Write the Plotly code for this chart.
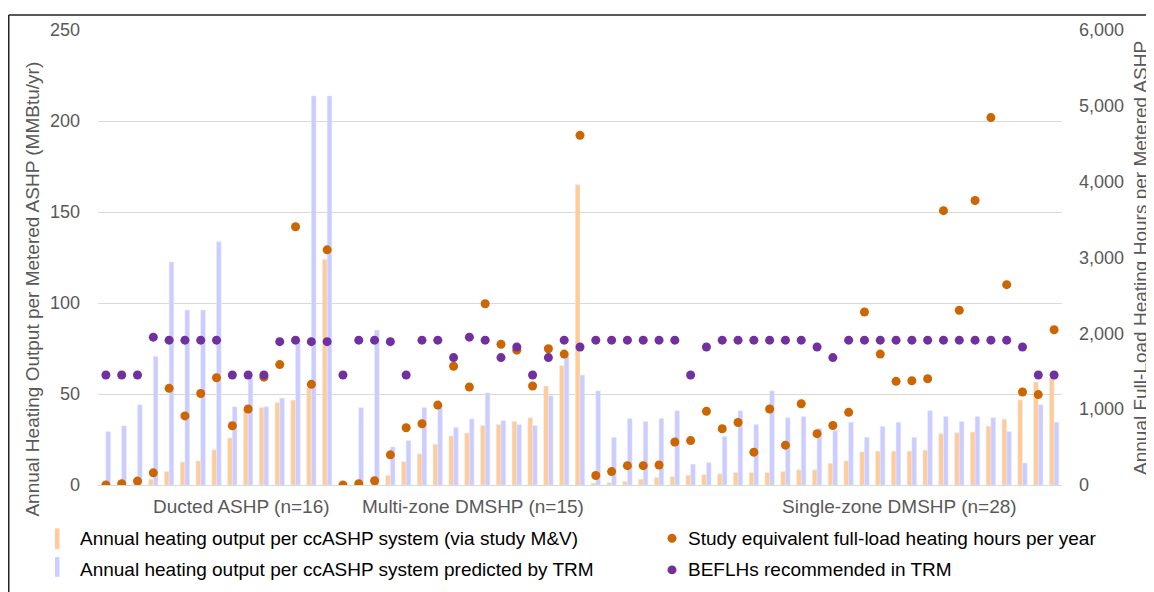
import plotly.graph_objects as go

# one slot per metered site (Ducted 0-15, Multi-zone 16-30, Single-zone 31-60)
sites = list(range(61))

mv_output = [0, 0, 0.5, 3.2, 7.4, 12.6, 13.2, 19.3, 25.8, 41.8, 42.6, 45.3, 46.6, 53.1, 124, None,
             0, 0, 5.2, 12.8, 17.1, 22.4, 26.9, 28.5, 32.7, 33.2, 34.9, 36.9, 54.4, 65.6, 165,
             1.1, 1.4, 2.0, 3.2, 4.1, 4.7, 5.4, 5.7, 6.1, 6.8, 6.8, 6.8, 7.4, 8.3, 8.3, 11.9,
             13.2, 18.2, 18.6, 18.6, 18.6, 19.1, 28.2, 28.7, 29.1, 32.3, 36.1, 46.8, 56.6, 58.9]

trm_output = [29.4, 32.5, 44.1, 70.7, 122.5, 96.1, 96.1, 133.6, 43.0, 58.9, 43.0, 47.7, 79.7, 213.8, 213.8, None,
              42.5, 85.1, 20.9, 24.4, 42.5, 43.5, 31.6, 36.3, 50.6, 35.4, 33.2, 32.7, 49.0, 71.2, 60.4,
              51.7, 26.2, 36.5, 34.9, 36.5, 40.8, 11.4, 12.3, 26.7, 40.8, 33.2, 51.7, 37.0, 37.6, 31.1, 30.0,
              34.5, 26.2, 32.2, 34.5, 26.2, 40.8, 37.6, 34.9, 37.6, 37.0, 29.4, 12.1, 44.1, 34.5]

study_eflh = [0, 17, 52, 160, 1275, 911, 1206, 1414, 781, 1002, 1422, 1588, 3405, 1327, 3101, 0,
              17, 56, 398, 755, 807, 1054, 1566, 1292, 2390, 1856, 1778, 1305, 1796, 1726, 4611,
              125, 177, 255, 255, 264, 567, 586, 971, 742, 824, 433, 1002, 525, 1071, 677, 785,
              958, 2282, 1726, 1367, 1375, 1401, 3618, 2304, 3752, 4845, 2642, 1227, 1192, 2047]

trm_beflh = [1450, 1450, 1450, 1950, 1910, 1910, 1910, 1910, 1450, 1450, 1450, 1890, 1910, 1890, 1890, 1450,
             1910, 1910, 1890, 1450, 1910, 1910, 1680, 1950, 1910, 1680, 1820, 1450, 1680, 1910, 1820,
             1910, 1910, 1910, 1910, 1910, 1910, 1450, 1820, 1910, 1910, 1910, 1910, 1910, 1910, 1820, 1680,
             1910, 1910, 1910, 1910, 1910, 1910, 1910, 1910, 1910, 1910, 1910, 1820, 1450, 1450]

groups = ["Ducted ASHP (n=16)", "Multi-zone DMSHP (n=15)", "Single-zone DMSHP (n=28)"]
legend_names = ["Annual heating output per ccASHP system (via study M&V)",
                "Annual heating output per ccASHP system predicted by TRM",
                "Study equivalent full-load heating hours per year",
                "BEFLHs recommended in TRM"]

ORANGE_BAR = "#FFCC99"
BLUE_BAR = "#CCCCFF"
ORANGE_DOT = "#CC6600"
PURPLE_DOT = "#7030A0"
FONT = "Liberation Sans, Arial, sans-serif"

# the page body adds an 8px margin, so work in screen pixels and shift back
OFF = 8
W, H = 1154, 592
L, R, T, B = 98 - OFF, W - 1062 + OFF, 24 - OFF, H - 485 + OFF
PW, PH = W - L - R, H - T - B


def px(x):
    return (x - OFF - L) / PW


def py(y):
    return (H - B - (y - OFF)) / PH


fig = go.Figure()
fig.add_trace(go.Bar(x=sites, y=mv_output, name=legend_names[0], marker_color=ORANGE_BAR))
fig.add_trace(go.Bar(x=sites, y=trm_output, name=legend_names[1], marker_color=BLUE_BAR))
fig.add_trace(go.Scatter(x=sites, y=study_eflh, name=legend_names[2], mode="markers",
                         marker=dict(color=ORANGE_DOT, size=9), yaxis="y2"))
fig.add_trace(go.Scatter(x=sites, y=trm_beflh, name=legend_names[3], mode="markers",
                         marker=dict(color=PURPLE_DOT, size=9), yaxis="y2"))

annotations = []
# group labels under the axis
for text, xl in zip(groups, [151, 360, 780]):
    annotations.append(dict(text=text, x=px(xl), y=py(507), xref="paper", yref="paper",
                            showarrow=False, xanchor="left", yanchor="middle",
                            font=dict(size=19, color="#595959", family=FONT)))
# axis titles
annotations.append(dict(text="Annual Heating Output per Metered ASHP (MMBtu/yr)", textangle=-90,
                        x=px(33), y=py(287), xref="paper", yref="paper", showarrow=False,
                        xanchor="center", yanchor="middle", font=dict(size=19, color="#595959", family=FONT)))
annotations.append(dict(text="Annual Full-Load Heating Hours per Metered ASHP", textangle=-90,
                        x=px(1141), y=py(255), xref="paper", yref="paper", showarrow=False,
                        xanchor="center", yanchor="middle", font=dict(size=19, color="#595959", family=FONT)))

# hand-built legend
shapes = []
for name, (tx, ty) in zip(legend_names, [(78, 539), (78, 571), (686, 539), (686, 571)]):
    annotations.append(dict(text=name, x=px(tx), y=py(ty), xref="paper", yref="paper",
                            showarrow=False, xanchor="left", yanchor="middle",
                            font=dict(size=19, color="#000000", family=FONT)))
for color, (y0, y1) in zip([ORANGE_BAR, BLUE_BAR], [(529, 550), (558, 578)]):
    shapes.append(dict(type="rect", xref="paper", yref="paper", x0=px(55), x1=px(59.5),
                       y0=py(y1), y1=py(y0), fillcolor=color, line=dict(width=0)))
for color, yc in zip([ORANGE_DOT, PURPLE_DOT], [539, 571]):
    shapes.append(dict(type="circle", xref="paper", yref="paper", x0=px(667.5), x1=px(676.5),
                       y0=py(yc + 4.5), y1=py(yc - 4.5), fillcolor=color, line=dict(width=0)))
# frame edges of the original crop, kept just inside the canvas
shapes.append(dict(type="line", xref="paper", yref="paper", x0=px(8.75), x1=px(8.75), y0=py(600), y1=py(8.75),
                   line=dict(color="#222222", width=1.5)))
shapes.append(dict(type="line", xref="paper", yref="paper", x0=px(8.75), x1=px(1162), y0=py(8.75), y1=py(8.75),
                   line=dict(color="#222222", width=1.5)))

fig.update_layout(
    width=W, height=H,
    margin=dict(l=L, r=R, t=T, b=B, pad=0),
    plot_bgcolor="white", paper_bgcolor="white",
    barmode="group", bargap=0.405, bargroupgap=0,
    showlegend=False,
    font=dict(family=FONT),
    xaxis=dict(range=[-0.5, 60.5], showticklabels=False, showgrid=False, zeroline=False,
               showline=True, linecolor="#d9d9d9", linewidth=1, ticks=""),
    yaxis=dict(range=[0, 250], dtick=50, showgrid=True, gridcolor="#d9d9d9", gridwidth=1,
               zeroline=False, ticks="", ticklabelstandoff=17,
               tickfont=dict(size=18, color="#595959", family=FONT)),
    yaxis2=dict(range=[0, 6000], dtick=1000, overlaying="y", side="right", showgrid=False,
                zeroline=False, tickformat=",d", ticks="", ticklabelstandoff=16,
                tickfont=dict(size=18, color="#595959", family=FONT)),
    annotations=annotations,
    shapes=shapes,
)

fig.write_html("out.html")
